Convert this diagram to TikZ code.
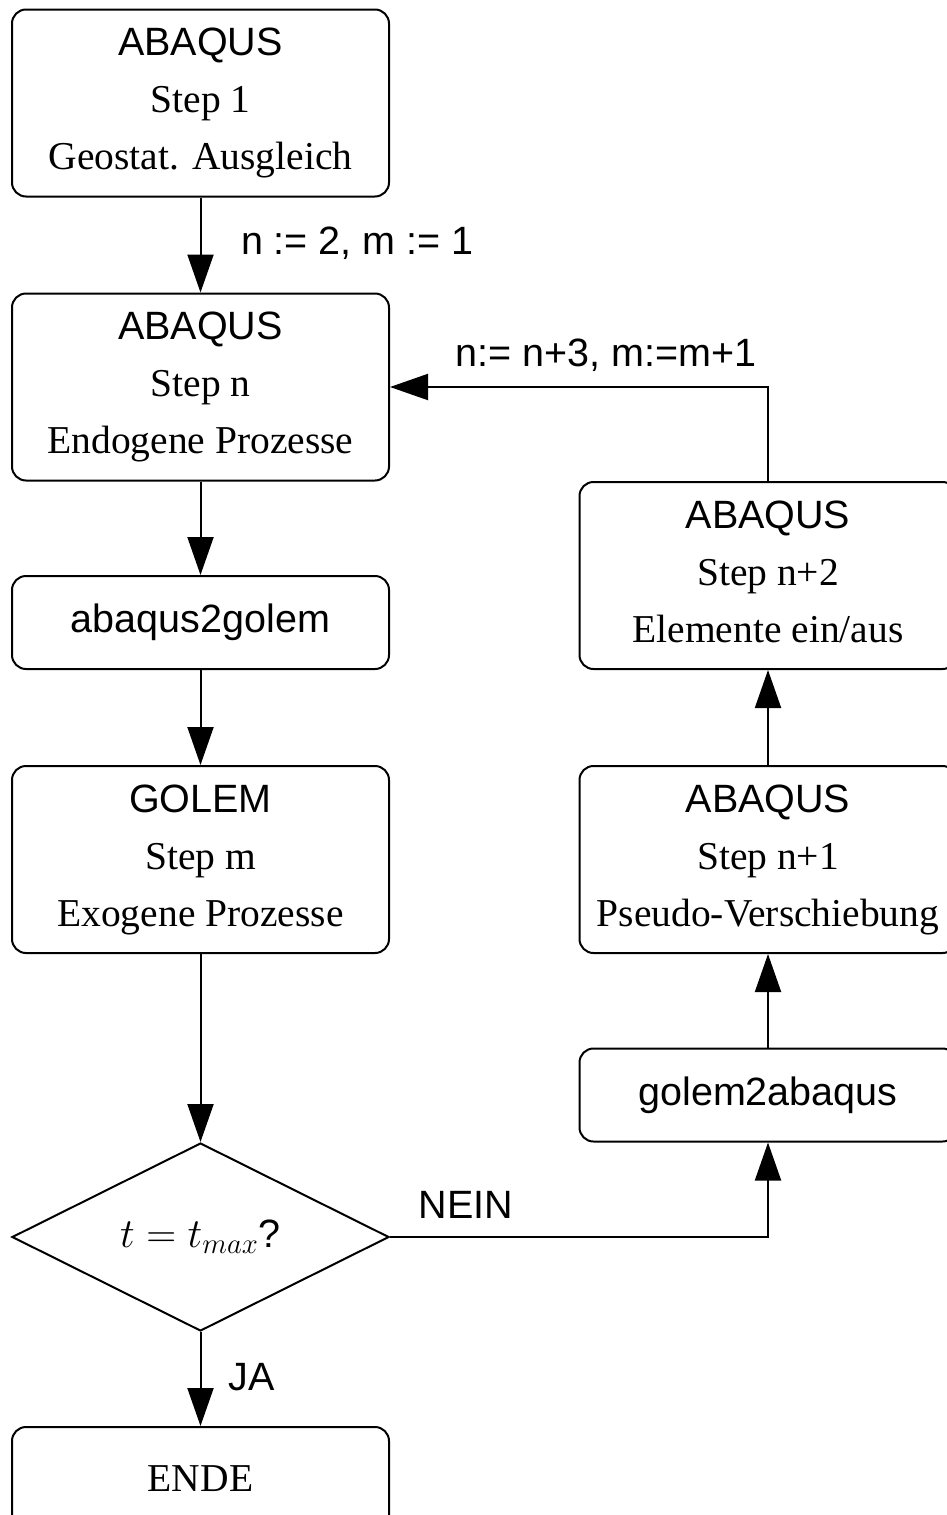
\documentclass[tikz,border=0pt]{standalone}
\usepackage{fontspec}
\setmainfont{Liberation Serif}
\setsansfont{Liberation Sans}
\usetikzlibrary{arrows.meta,shapes.geometric}
\begin{document}
\begin{tikzpicture}[x=0.5pt,y=-0.5pt,
  line width=1pt,
  box/.style={draw,rounded corners=7pt,minimum width=188.5pt,align=center,inner sep=0pt,
    font=\fontsize{19.75}{28.5}\selectfont},
  tall/.style={box,minimum height=93.5pt},
  short/.style={box,minimum height=46.5pt},
  decision/.style={draw,diamond,aspect=2,minimum width=188.5pt,minimum height=94pt,inner sep=0pt,
    font=\fontsize{19.75}{24}\selectfont},
  lbl/.style={font=\sffamily\fontsize{19.75}{24}\selectfont,inner sep=0pt},
  arr/.style={-{Triangle[length=19pt,width=13pt]}}
]
\useasboundingbox (0,0) rectangle (947,1515);
\node[tall] (b1) at (200.5,103) {{\sffamily ABAQUS}\\Step 1\\Geostat. Ausgleich};
\node[tall] (b2) at (200.5,387) {{\sffamily ABAQUS}\\Step n\\Endogene Prozesse};
\node[short] (b3) at (200.5,622.5) {\sffamily abaqus2golem};
\node[tall] (b4) at (200.5,859.5) {{\sffamily GOLEM}\\Step m\\Exogene Prozesse};
\node[decision] (dia) at (200.5,1237) {$t=t_{max}$\textsf{?}};
\node[box,minimum height=51.5pt] (b5) at (200.5,1478.5) {ENDE};
\node[tall] (ra) at (768,575.5) {{\sffamily ABAQUS}\\Step n+2\\Elemente ein/aus\vphantom{g}};
\node[tall] (rb) at (768,859.5) {{\sffamily ABAQUS}\\Step n+1\\Pseudo-Verschiebung};
\node[short] (rc) at (768,1095) {\sffamily golem2abaqus};

\draw[arr] (b1) -- (b2);
\draw[arr] (b2) -- (b3);
\draw[arr] (b3) -- (b4);
\draw[arr] (b4) -- (dia);
\draw[arr] (dia) -- (b5);
\draw[arr] (dia.east) -| (rc.south);
\draw[arr] (rc) -- (rb);
\draw[arr] (rb) -- (ra);
\draw[arr] (ra.north) |- (b2.east);

\node[lbl,anchor=west] (l1) at (240,243) {n := 2, m := 1};
\node[lbl] (l2) at (606,355) {n:= n+3, m:=m+1};
\node[lbl] (l3) at (466,1205) {NEIN};
\node[lbl] (l4) at (252,1377) {JA};
\end{tikzpicture}
\end{document}
